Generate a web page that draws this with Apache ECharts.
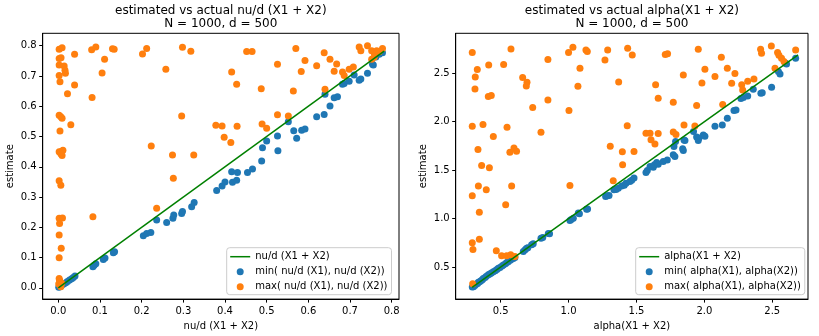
<!DOCTYPE html>
<html>
<head>
<meta charset="utf-8">
<title>estimated vs actual nu/d and alpha</title>
<script src="https://cdn.jsdelivr.net/npm/echarts@6/dist/echarts.min.js"></script>
</head>
<body style="margin:0">
<div id="main" style="width:819px;height:336px;"></div>
<script type="text/javascript">

// left panel: nu/d, points are [actual, estimate]
var nuMin = [[0.001,0.002],[0.003,0.004],[0.006,0.006],[0.009,0.010],[0.013,0.013],[0.018,0.017],[0.022,0.021],[0.027,0.026],[0.032,0.030],[0.036,0.034],[0.040,0.039],
  [0.083,0.070],[0.086,0.075],[0.090,0.080],[0.108,0.094],[0.112,0.099],[0.132,0.116],[0.135,0.119],
  [0.204,0.172],[0.212,0.180],[0.222,0.183],[0.236,0.224],[0.260,0.216],[0.275,0.230],[0.277,0.241],[0.296,0.246],[0.298,0.252],[0.320,0.268],[0.326,0.282],
  [0.380,0.322],[0.393,0.337],[0.400,0.350],[0.418,0.349],[0.416,0.384],[0.428,0.356],[0.430,0.381],[0.454,0.381],[0.466,0.393],[0.488,0.419],[0.490,0.463],[0.500,0.485],[0.526,0.502],[0.527,0.453],
  [0.552,0.549],[0.565,0.519],[0.572,0.494],[0.584,0.521],[0.592,0.525],[0.620,0.565],[0.638,0.573],[0.652,0.601],[0.640,0.640],[0.662,0.628],[0.670,0.631],[0.682,0.673],[0.686,0.675],[0.698,0.683],[0.710,0.703],[0.722,0.686],[0.726,0.690],[0.742,0.709],[0.754,0.739],[0.756,0.736],[0.762,0.763],[0.770,0.772],[0.778,0.777]];

var nuMax = [[0.002,0.788],[0.009,0.793],[0.002,0.758],[0.0065,0.760],[0.002,0.736],[0.014,0.733],[0.016,0.719],[0.017,0.709],[0.002,0.702],[0.004,0.681],[0.039,0.772],[0.039,0.670],[0.022,0.641],[0.080,0.787],[0.090,0.796],[0.111,0.755],[0.105,0.710],[0.081,0.629],[0.130,0.790],[0.134,0.788],
  [0.002,0.570],[0.006,0.565],[0.009,0.560],[0.030,0.539],[0.004,0.518],[0.002,0.450],[0.006,0.450],[0.009,0.437],[0.011,0.455],[0.006,0.443],
  [0.202,0.773],[0.212,0.791],[0.258,0.722],[0.223,0.469],[0.296,0.568],[0.298,0.795],[0.318,0.782],[0.274,0.439],[0.325,0.439],[0.378,0.537],[0.393,0.535],[0.429,0.534],[0.398,0.498],[0.414,0.480],[0.416,0.713],[0.428,0.673],
  [0.276,0.362],[0.002,0.354],[0.006,0.339],[0.236,0.263],[0.002,0.230],[0.010,0.231],[0.003,0.213],[0.083,0.235],[0.002,0.175],[0.007,0.131],[0.002,0.100],
  [0.002,0.031],[0.004,0.020],[0.001,0.013],[0.006,0.004],[0.003,0.025],[0.008,0.015],
  [0.452,0.781],[0.465,0.781],[0.487,0.658],[0.526,0.739],[0.570,0.791],[0.592,0.751],[0.583,0.715],[0.564,0.650],[0.620,0.734],[0.638,0.777],[0.652,0.755],[0.668,0.740],[0.662,0.716],[0.640,0.656],[0.682,0.713],[0.686,0.702],[0.698,0.722],[0.708,0.730],[0.722,0.796],[0.726,0.783],[0.742,0.800],[0.752,0.783],[0.758,0.777],[0.764,0.783],[0.778,0.791],[0.752,0.755],[0.758,0.762],[0.770,0.780],
  [0.489,0.541],[0.500,0.527],[0.526,0.572],[0.552,0.568]];

var nuLineX = [0.0, 0.782];

// right panel: alpha
var alphaMin = [[0.291,0.294],[0.300,0.298],[0.310,0.310],[0.320,0.322],[0.330,0.330],[0.336,0.345],[0.345,0.350],[0.355,0.360],[0.365,0.370],[0.372,0.382],[0.385,0.392],[0.395,0.405],[0.409,0.420],[0.420,0.430],[0.432,0.440],[0.446,0.452],[0.460,0.462],[0.472,0.475],[0.483,0.487],[0.495,0.496],[0.510,0.512],[0.520,0.522],[0.535,0.535],[0.545,0.548],[0.556,0.556],[0.570,0.570],[0.580,0.580],[0.593,0.590],[0.605,0.600],[0.667,0.661],[0.680,0.680],[0.691,0.694],[0.700,0.700],[0.728,0.730],[0.740,0.740],[0.797,0.797],[0.810,0.805],[0.851,0.848],[0.860,0.845],
  [1.010,0.981],[1.020,0.990],[1.035,1.005],[1.072,1.057],[1.080,1.050],[1.133,1.098],[1.140,1.100],
  [1.273,1.228],[1.285,1.235],[1.298,1.239],[1.334,1.297],[1.350,1.300],[1.366,1.314],[1.391,1.338],[1.410,1.345],[1.423,1.366],[1.452,1.383],[1.465,1.395],[1.482,1.418],
  [1.570,1.476],[1.580,1.497],[1.600,1.538],[1.624,1.531],[1.632,1.555],[1.649,1.579],[1.660,1.560],[1.697,1.590],[1.727,1.606],[1.771,1.658],[1.783,1.641],[1.776,1.744],[1.788,1.796],[1.845,1.703],[1.840,1.720],
  [1.857,1.805],[1.850,1.810],[1.920,1.900],[1.943,1.843],[1.955,1.805],[1.960,1.833],[1.992,1.863],[2.004,1.850],[2.078,1.953],[2.132,1.967],[2.169,2.036],[2.218,2.115],[2.233,2.122],[2.269,2.239],[2.287,2.249],[2.319,2.266],[2.360,2.335],[2.416,2.294],[2.426,2.300],[2.495,2.356],[2.545,2.517],[2.557,2.493],[2.598,2.603],[2.605,2.595],[2.672,2.654]];

var alphaMax = [[0.291,2.713],[0.576,2.751],[0.328,2.538],[0.313,2.462],[0.311,2.338],[0.412,2.586],[0.522,2.589],[0.409,2.259],[0.431,2.270],[0.662,2.455],[0.694,2.407],[0.689,2.369],[0.736,2.146],[0.848,2.641],[0.848,2.225],[1.003,2.115],[1.000,2.713],[1.032,2.768],[1.128,2.741],[1.138,2.724],[1.084,2.552],[1.069,2.366],[0.797,1.892],[1.288,2.741],[1.268,2.637],[1.435,2.758],[1.469,2.689],[1.369,2.410],
  [0.291,1.954],[0.370,1.971],[0.547,1.944],[0.446,1.847],[0.333,1.713],[0.598,1.730],[0.568,1.686],[0.617,1.696],[0.360,1.548],[0.417,1.524],[1.432,1.957],[1.307,1.747],[1.396,1.689],[1.482,1.692],[1.398,1.555],
  [0.336,1.338],[0.394,1.297],[0.291,1.235],[0.581,1.338],[0.537,1.143],[0.343,1.067],[0.291,0.751],[0.343,0.788],[0.296,0.682],[0.468,0.668],[0.507,0.617],[0.544,0.617],[0.574,0.627],[0.605,0.610],[0.294,0.328],[1.010,1.342],[1.329,1.390],
  [1.712,2.693],[1.729,2.700],[1.955,2.747],[2.125,2.665],[1.845,2.483],[2.004,2.541],[1.982,2.400],[2.078,2.466],[2.169,2.552],[2.225,2.497],[2.201,2.397],[2.275,2.380],[2.282,2.328],[2.319,2.417],[2.365,2.441],[2.414,2.747],[2.421,2.706],[2.493,2.782],[2.539,2.713],[2.549,2.686],[2.568,2.654],[2.586,2.620],[2.672,2.741],[2.520,2.552],
  [1.641,2.380],[1.660,2.241],[1.771,2.200],[1.943,2.167],[2.135,2.177],[1.570,1.882],[1.600,1.882],[1.660,1.878],[1.607,1.814],[1.636,1.771],[1.771,1.895],[1.791,1.867],[1.850,1.967],[1.930,1.955]];

var alphaLineX = [0.29, 2.69];

var nuTicksX = [0.0, 0.1, 0.2, 0.3, 0.4, 0.5, 0.6, 0.7, 0.8];
var nuTicksY = [0.0, 0.1, 0.2, 0.3, 0.4, 0.5, 0.6, 0.7, 0.8];
var alphaTicksX = [0.5, 1.0, 1.5, 2.0, 2.5];
var alphaTicksY = [0.5, 1.0, 1.5, 2.0, 2.5];

var nuNames = ['nu/d (X1 + X2)', 'min( nu/d (X1), nu/d (X2))', 'max( nu/d (X1), nu/d (X2))'];
var alphaNames = ['alpha(X1 + X2)', 'min( alpha(X1), alpha(X2))', 'max( alpha(X1), alpha(X2))'];

// plain line handle for the legend (moveTo points keep the box 20x7)
var lineIcon = 'path://M0,0 M0,2.75 L20,2.75 L20,4.25 L0,4.25 Z M20,7';

var myChart = echarts.init(document.getElementById('main'));

function valueAxis(idx, lo, hi, ticks, name) {
  return {
    type: 'value', gridIndex: idx, min: lo, max: hi,
    name: name, nameLocation: 'middle', nameGap: 19,
    nameTextStyle: {color: '#000', fontSize: 10},
    axisLine: {show: true, onZero: false, lineStyle: {color: '#000', width: 1}},
    axisTick: {show: true, length: 3.5, customValues: ticks, lineStyle: {color: '#000', width: 1}},
    axisLabel: {color: '#000', fontSize: 10, margin: 7, customValues: ticks,
      formatter: function (v) { return v.toFixed(1); }},
    splitLine: {show: false}
  };
}

function legendFor(left, names) {
  return {
    orient: 'vertical', left: left, top: 247.7,
    data: [{name: names[0], icon: lineIcon}, {name: names[1], icon: 'circle'}, {name: names[2], icon: 'circle'}],
    itemWidth: 20, itemHeight: 7, itemGap: 5, itemTextGap: 8,
    symbolKeepAspect: false,
    padding: [4, 4, 3, 3.5],
    backgroundColor: 'rgba(255,255,255,0.8)',
    borderColor: '#cccccc', borderWidth: 1, borderRadius: 3,
    textStyle: {color: '#000', fontSize: 10},
    selectedMode: false
  };
}

var xLeft = valueAxis(0, -0.0375, 0.8176, nuTicksX, 'nu/d (X1 + X2)');
var yLeft = valueAxis(0, -0.037, 0.841, nuTicksY, 'estimate');
yLeft.nameGap = 27;
yLeft.axisLabel.margin = 6;
var xRight = valueAxis(1, 0.169, 2.763, alphaTicksX, 'alpha(X1 + X2)');
var yRight = valueAxis(1, 0.170, 2.912, alphaTicksY, 'estimate');
yRight.nameGap = 27;
yRight.axisLabel.margin = 6;

myChart.setOption({
  animation: false,
  textStyle: {fontFamily: 'DejaVu Sans'},
  title: [
    {text: 'estimated vs actual nu/d (X1 + X2)\nN = 1000, d = 500', left: 220.8, top: 4, textAlign: 'center', padding: 0,
     textStyle: {fontSize: 12, fontWeight: 'normal', color: '#000', lineHeight: 13}},
    {text: 'estimated vs actual alpha(X1 + X2)\nN = 1000, d = 500', left: 631.9, top: 4, textAlign: 'center', padding: 0,
     textStyle: {fontSize: 12, fontWeight: 'normal', color: '#000', lineHeight: 13}}
  ],
  grid: [
    {left: 42.7, top: 33.3, width: 356.3, height: 266, show: true, borderColor: '#000', borderWidth: 1, backgroundColor: '#fff'},
    {left: 455.7, top: 33.3, width: 352.3, height: 266, show: true, borderColor: '#000', borderWidth: 1, backgroundColor: '#fff'}
  ],
  legend: [legendFor(226.7, nuNames), legendFor(635.7, alphaNames)],
  xAxis: [xLeft, xRight],
  yAxis: [yLeft, yRight],
  series: [
    {name: nuNames[1], type: 'scatter', xAxisIndex: 0, yAxisIndex: 0, data: nuMin, symbolSize: 7,
     itemStyle: {color: '#1f77b4', opacity: 1}, z: 2},
    {name: nuNames[2], type: 'scatter', xAxisIndex: 0, yAxisIndex: 0, data: nuMax, symbolSize: 7,
     itemStyle: {color: '#ff7f0e', opacity: 1}, z: 3},
    {name: nuNames[0], type: 'line', xAxisIndex: 0, yAxisIndex: 0, symbol: 'none',
     data: nuLineX.map(function (v) { return [v, v]; }),
     lineStyle: {color: '#008000', width: 1.5}, itemStyle: {color: '#008000'}, z: 4},
    {name: alphaNames[1], type: 'scatter', xAxisIndex: 1, yAxisIndex: 1, data: alphaMin, symbolSize: 7,
     itemStyle: {color: '#1f77b4', opacity: 1}, z: 2},
    {name: alphaNames[2], type: 'scatter', xAxisIndex: 1, yAxisIndex: 1, data: alphaMax, symbolSize: 7,
     itemStyle: {color: '#ff7f0e', opacity: 1}, z: 3},
    {name: alphaNames[0], type: 'line', xAxisIndex: 1, yAxisIndex: 1, symbol: 'none',
     data: alphaLineX.map(function (v) { return [v, v]; }),
     lineStyle: {color: '#008000', width: 1.5}, itemStyle: {color: '#008000'}, z: 4}
  ]
});
</script>
</body>
</html>
